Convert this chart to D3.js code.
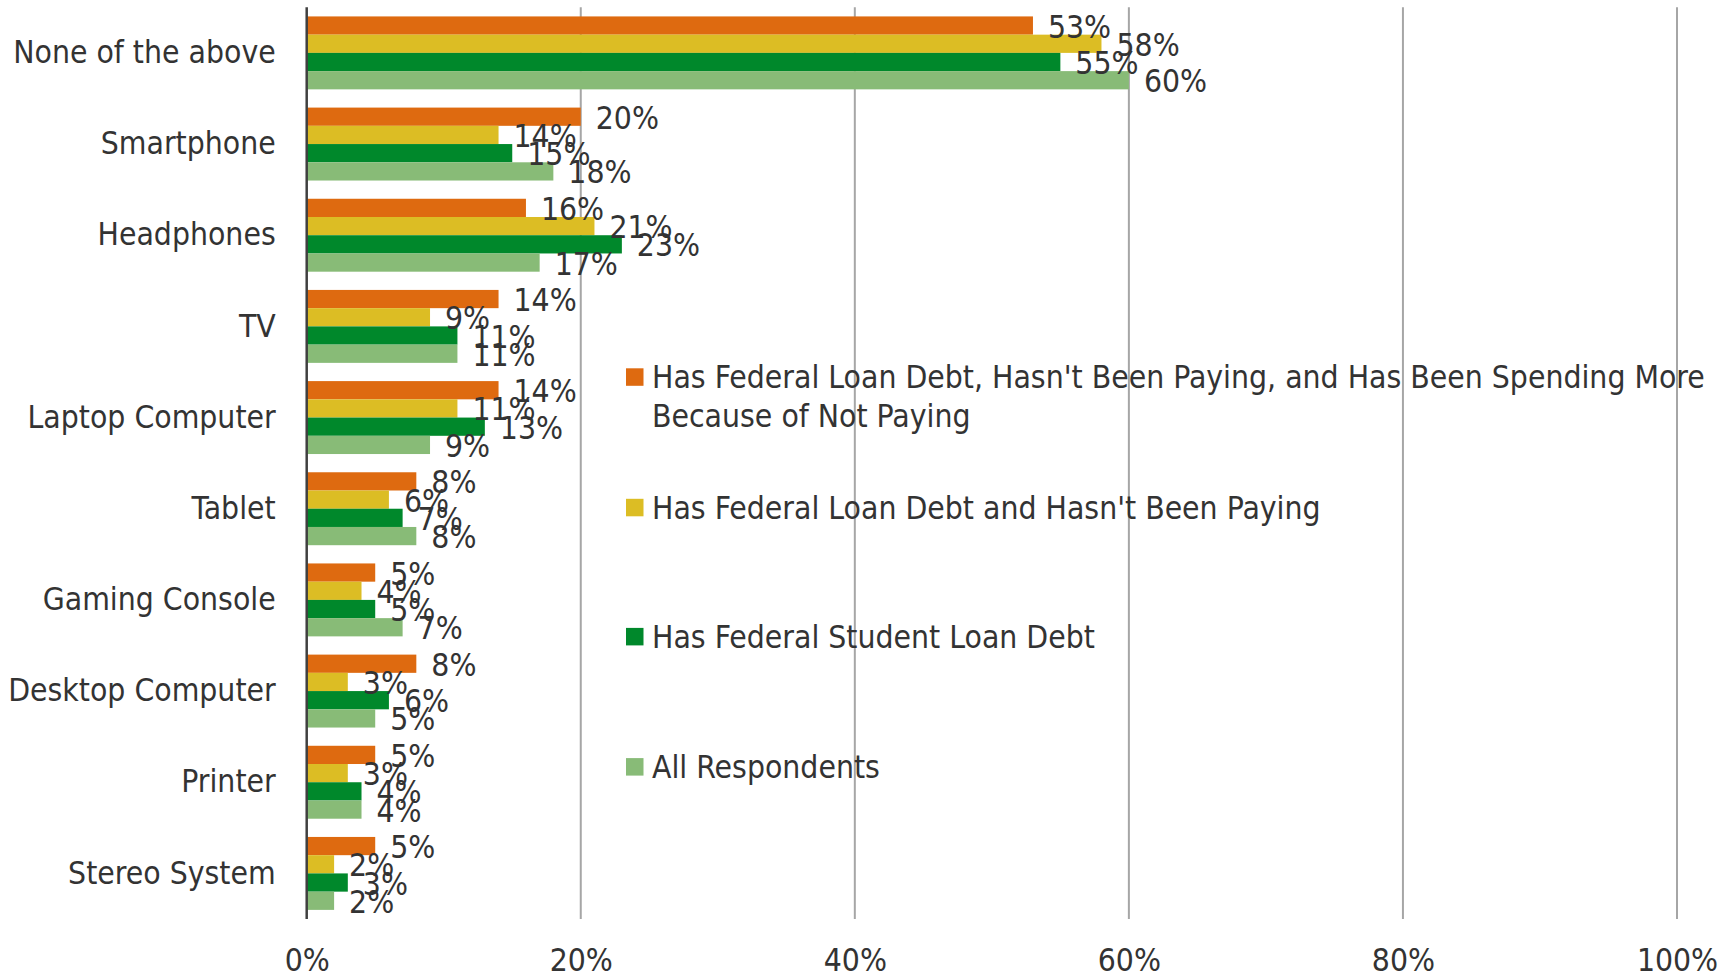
<!DOCTYPE html>
<html>
<head>
<meta charset="utf-8">
<script src="https://cdn.jsdelivr.net/npm/d3@7"></script>
<style>
  html, body { margin: 0; padding: 0; background: #ffffff; }
  svg { display: block; }
  text { font-family: "DejaVu Sans Condensed", "DejaVu Sans", Verdana, sans-serif; fill: #333333; }
</style>
</head>
<body>
<svg id="chart" width="1730" height="977"></svg>
<script>
// Categories, top to bottom
const categories = [
  "None of the above", "Smartphone", "Headphones", "TV", "Laptop Computer",
  "Tablet", "Gaming Console", "Desktop Computer", "Printer", "Stereo System"
];

// Series names (legend order, also bar order within each group)
const seriesNames = [
  "Has Federal Loan Debt, Hasn't Been Paying, and Has Been Spending More Because of Not Paying",
  "Has Federal Loan Debt and Hasn't Been Paying",
  "Has Federal Student Loan Debt",
  "All Respondents"
];

// Values in percent, one array per series, in category order
const notPayingSpendingMore = [53, 20, 16, 14, 14, 8, 5, 8, 5, 5];
const notPaying             = [58, 14, 21, 9, 11, 6, 4, 3, 3, 2];
const hasStudentLoanDebt    = [55, 15, 23, 11, 13, 7, 5, 6, 4, 3];
const allRespondents        = [60, 18, 17, 11, 9, 8, 7, 5, 4, 2];

const xTicks = [0, 20, 40, 60, 80, 100];

const seriesValues = [notPayingSpendingMore, notPaying, hasStudentLoanDebt, allRespondents];
const colors = ["#DE6A10", "#DCBD24", "#00882B", "#88BB77"];

const svg = d3.select("#chart");
const margin = { left: 306.7, right: 1730 - 1677, top: 7.3, bottom: 977 - 919 };
const W = 1730, H = 977;
const FONT = 31.6;
const FAMILY = "DejaVu Sans Condensed, DejaVu Sans, Verdana, sans-serif";

const x = d3.scaleLinear().domain([0, 100]).range([margin.left, W - margin.right]);
const y = d3.scaleBand().domain(categories).range([margin.top, H - margin.bottom])
  .paddingInner(0.2).paddingOuter(0.1);
const ySub = d3.scaleBand().domain(d3.range(seriesNames.length)).range([0, y.bandwidth()]);

// Vertical gridlines
svg.append("g")
  .selectAll("line")
  .data(xTicks.filter(t => t > 0))
  .join("line")
  .attr("x1", d => x(d)).attr("x2", d => x(d))
  .attr("y1", margin.top).attr("y2", H - margin.bottom)
  .attr("stroke", "#a6a6a6").attr("stroke-width", 2);

// Bars
const rows = [];
categories.forEach((c, ci) => {
  seriesValues.forEach((vals, si) => rows.push({ cat: c, s: si, v: vals[ci] }));
});

svg.append("g")
  .selectAll("rect")
  .data(rows)
  .join("rect")
  .attr("x", x(0))
  .attr("y", d => y(d.cat) + ySub(d.s))
  .attr("width", d => x(d.v) - x(0))
  .attr("height", ySub.bandwidth())
  .attr("fill", d => colors[d.s]);

// Value labels
svg.append("g")
  .selectAll("text")
  .data(rows)
  .join("text")
  .attr("x", d => x(d.v) + 15)
  .attr("y", d => y(d.cat) + ySub(d.s) + ySub.bandwidth() / 2 + 1)
  .attr("dominant-baseline", "central")
  .attr("font-size", FONT)
  .text(d => d.v + "%");

// Category axis
const yAxis = svg.append("g")
  .attr("transform", `translate(${x(0)},0)`)
  .call(d3.axisLeft(y).tickSize(0).tickPadding(31));
yAxis.select(".domain").attr("stroke", "#404040").attr("stroke-width", 2.5)
  .attr("d", `M0,${margin.top}V${H - margin.bottom}`);
yAxis.selectAll("text")
  .attr("font-size", FONT)
  .attr("font-family", FAMILY)
  .attr("fill", "#333333");

// Percent axis
const xAxis = svg.append("g")
  .attr("transform", `translate(0,${H - margin.bottom})`)
  .call(d3.axisBottom(x).tickValues(xTicks).tickSize(0).tickPadding(30).tickFormat(d => d + "%"));
xAxis.select(".domain").remove();
xAxis.selectAll("text")
  .attr("font-size", FONT)
  .attr("font-family", FAMILY)
  .attr("fill", "#333333");

// Legend
const legendX = 626;
const legendTextX = 652;
const lineGap = 39;
const legendYs = [377, 507.5, 636.6, 766.8];
const maxLegendWidth = 1070;

const legend = svg.append("g");
seriesNames.forEach((name, i) => {
  const g = legend.append("g");
  // wrap long names to the legend width
  const words = name.split(" ");
  const lines = [];
  let cur = "";
  const probe = g.append("text").attr("font-size", FONT);
  words.forEach(w => {
    const test = cur ? cur + " " + w : w;
    probe.text(test);
    if (probe.node().getComputedTextLength() > maxLegendWidth && cur) {
      lines.push(cur);
      cur = w;
    } else {
      cur = test;
    }
  });
  lines.push(cur);
  probe.remove();

  const cy = legendYs[i];
  g.append("rect")
    .attr("x", legendX).attr("y", cy - 8.7)
    .attr("width", 17.5).attr("height", 17.5)
    .attr("fill", colors[i]);
  lines.forEach((ln, li) => {
    g.append("text")
      .attr("x", legendTextX)
      .attr("y", cy + li * lineGap)
      .attr("dominant-baseline", "central")
      .attr("font-size", FONT)
      .text(ln);
  });
});
</script>
</body>
</html>
